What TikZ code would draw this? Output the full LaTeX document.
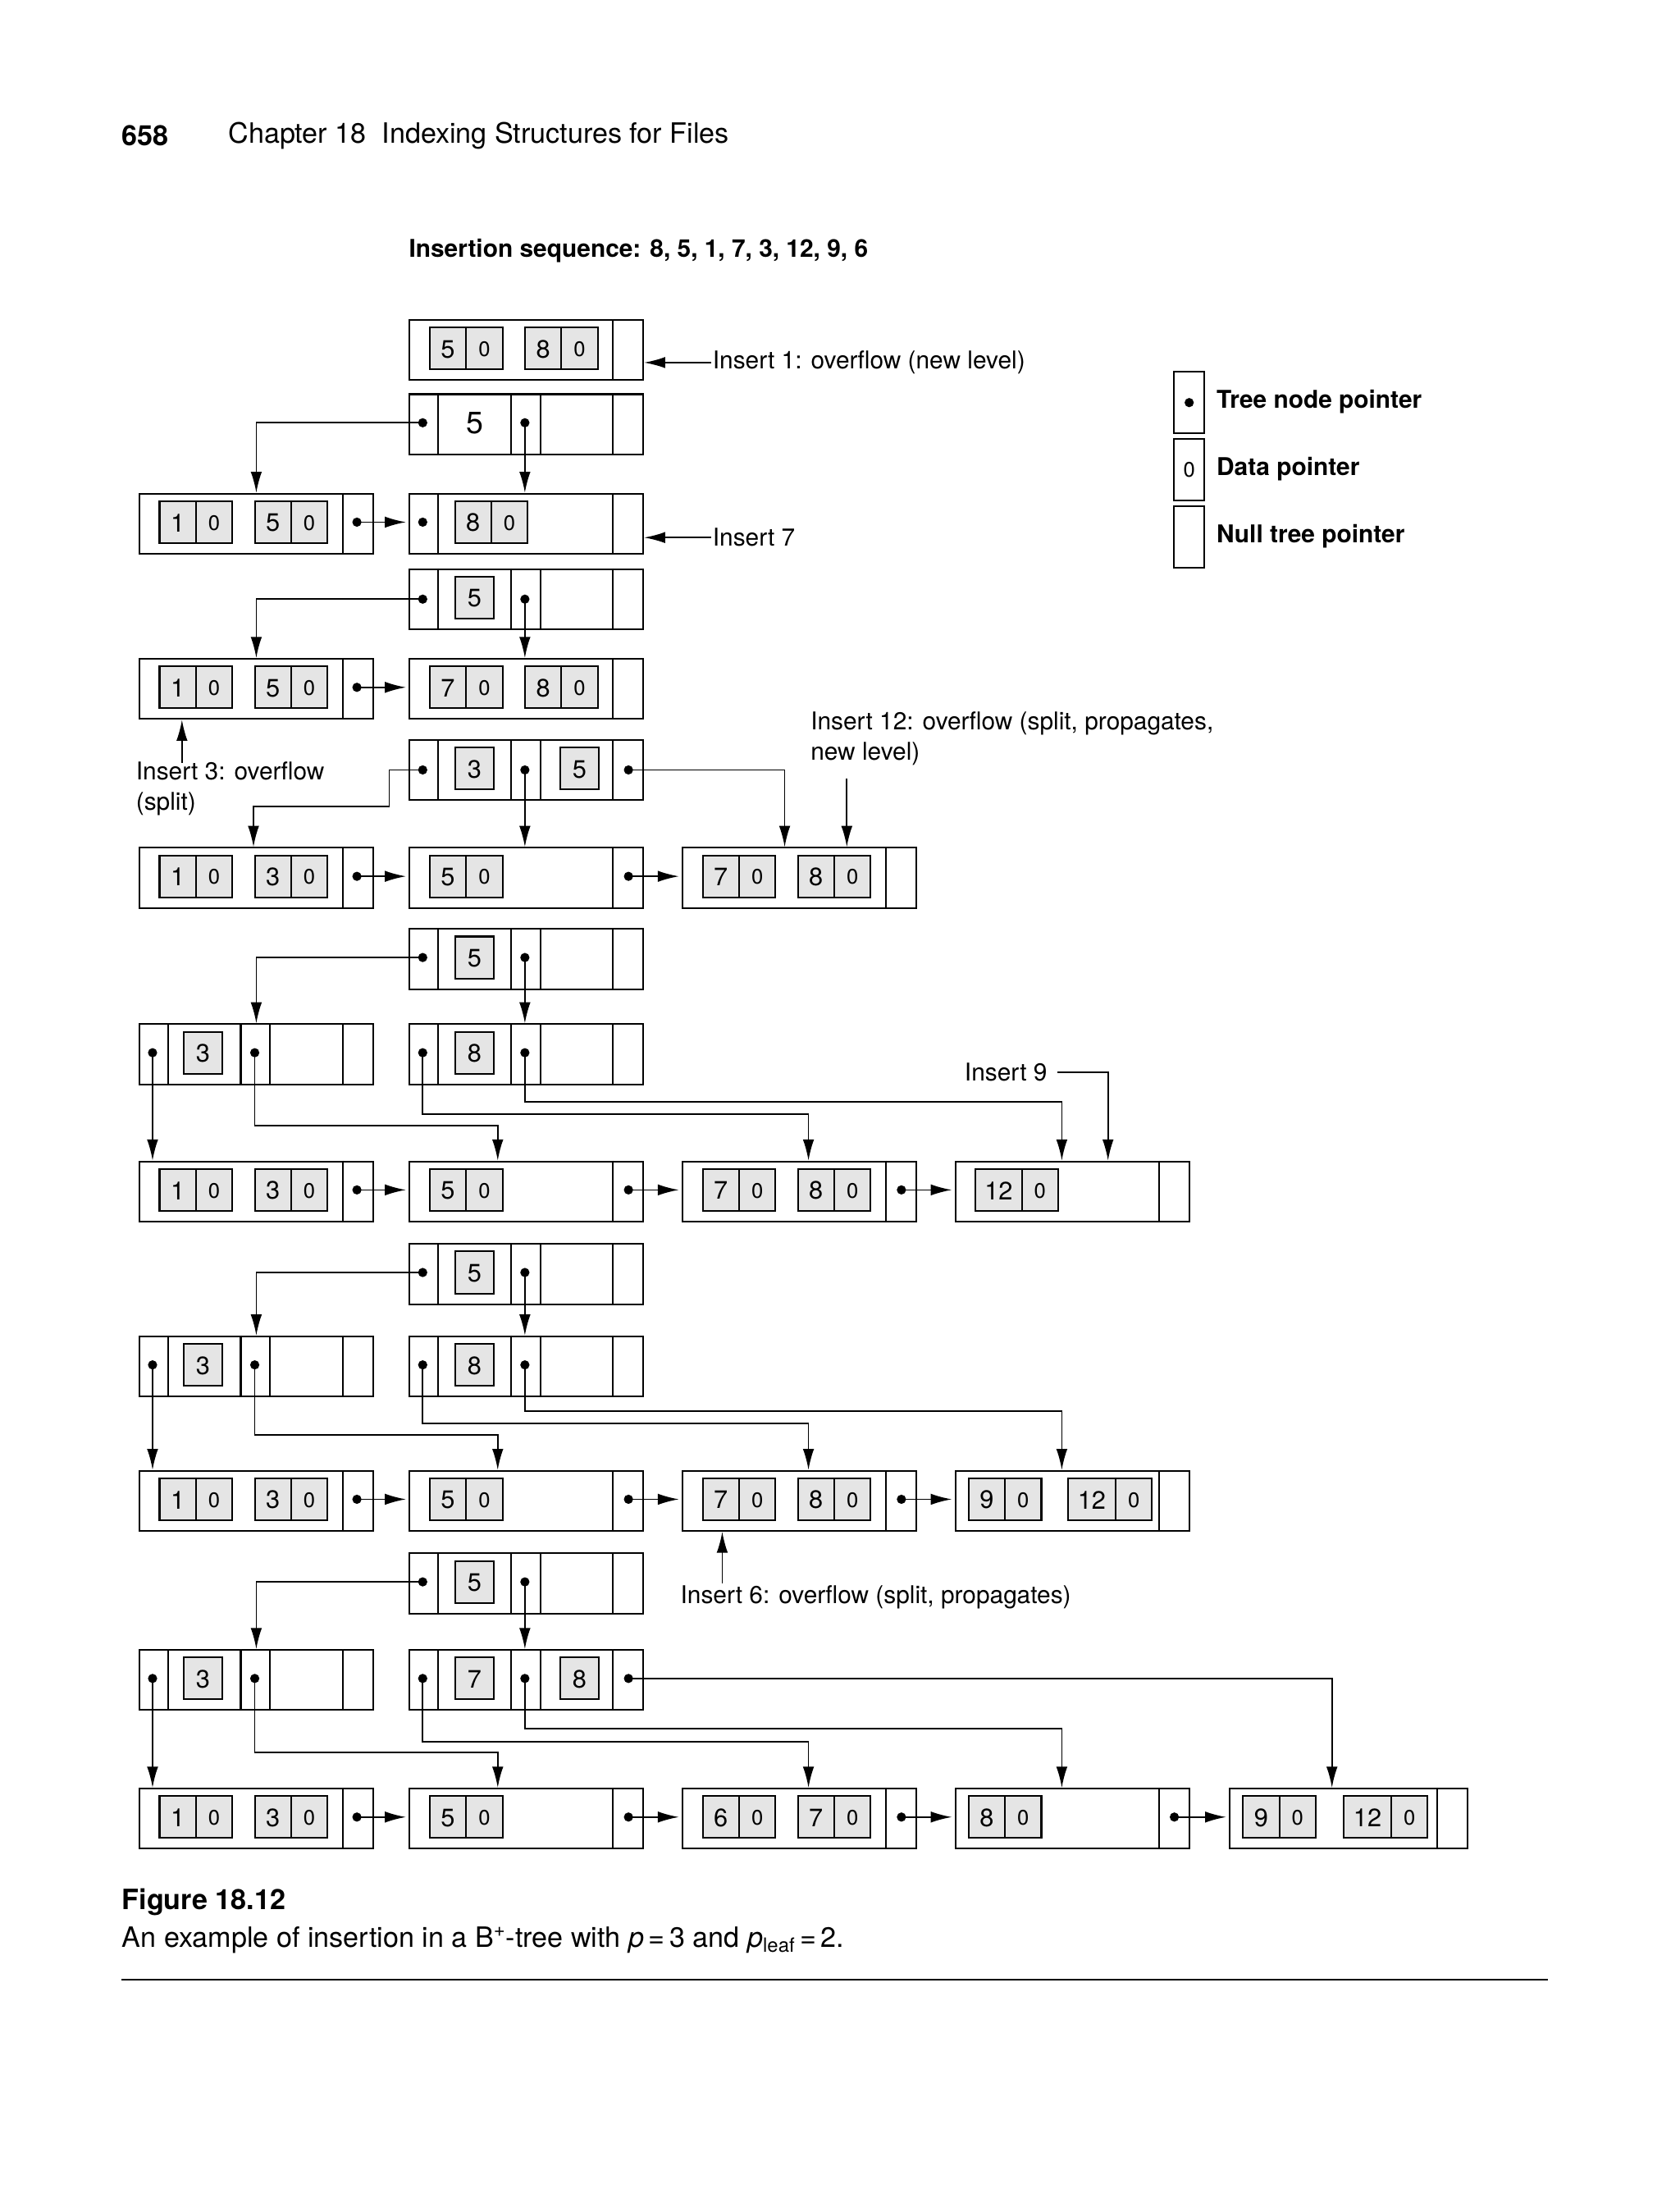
\documentclass[tikz,border=0pt]{standalone}
\usepackage{fontspec}
\setmainfont{TeX Gyre Heros}
\usetikzlibrary{arrows.meta}
\tikzset{
 x=1pt,y=-1pt,
 nd/.style={draw,line width=1.2pt,minimum width=167pt,minimum height=43pt,inner sep=0pt,anchor=north west},
 ln/.style={line width=1.2pt},
 kb/.style={draw,line width=1.2pt,fill=black!10},
 ar/.style={line width=1pt,-{Latex[length=15pt,width=8pt]}},
 dig/.style={font=\fontsize{18}{20}\selectfont,inner sep=0pt},
 zero/.style={font=\fontsize{15}{17}\selectfont,inner sep=0pt},
 lab/.style={font=\fontsize{17.5}{22}\selectfont,inner sep=1pt,align=left},
 blab/.style={font=\bfseries\fontsize{17.5}{22}\selectfont,inner sep=1pt},
}
\newcommand\Nd[3]{\node[nd] (#1) at (#2,#3) {};
 \draw[ln] ([xshift=146pt]#1.north west)--([xshift=146pt]#1.south west);}
\newcommand\In[3]{\Nd{#1}{#2}{#3}
 \draw[ln] ([xshift=21pt]#1.north west)--([xshift=21pt]#1.south west);
 \draw[ln] ([xshift=73pt]#1.north west)--([xshift=73pt]#1.south west);
 \draw[ln] ([xshift=94pt]#1.north west)--([xshift=94pt]#1.south west);}
\newcommand\KP[4]{\draw[kb] (#1,#2+6) rectangle ++(#4,30);
 \draw[kb] (#1+#4,#2+6) rectangle ++(26,30);
 \node[dig] at (#1+#4/2,#2+21.5) {#3};
 \node[zero] at (#1+#4+13,#2+21.5) {0};}
\newcommand\KB[3]{\draw[kb] (#1,#2+6) rectangle ++(28,30);
 \node[dig] at (#1+14,#2+21.5) {#3};}
\newcommand\Dt[3]{\coordinate (#1) at (#2,#3); \fill (#1) circle (3.3pt);}
\begin{document}
\begin{tikzpicture}
\useasboundingbox (0,0) rectangle (1200,1573);
% header
\node[font=\bfseries\fontsize{20}{24}\selectfont,anchor=west,inner sep=0] (pg) at (87,97) {658};
\node[font=\fontsize{20}{24}\selectfont,anchor=west,inner sep=0] (ch) at (163,97) {Chapter 18\ \ Indexing Structures for Files};
\node[blab,anchor=west] (seq) at (291,179) {Insertion sequence: 8, 5, 1, 7, 3, 12, 9, 6};
% legend
\node[nd,minimum width=22pt,minimum height=44pt] (lg1) at (838,265) {};
\fill (lg1.center) circle (3.3pt);
\node[blab,anchor=west] (lt1) at (868,287) {Tree node pointer};
\node[nd,minimum width=22pt,minimum height=44pt] (lg2) at (838,313) {};
\node[zero] at (lg2.center) {0};
\node[blab,anchor=west] (lt2) at (868,335) {Data pointer};
\node[nd,minimum width=22pt,minimum height=44pt] (lg3) at (838,361) {};
\node[blab,anchor=west] (lt3) at (868,383) {Null tree pointer};

% R1
\Nd{n1}{292}{228} \KP{307}{228}{5}{26} \KP{375}{228}{8}{26}
\node[lab,anchor=west] (t1) at (508,259) {Insert 1: overflow (new level)};
\draw[ar] (t1.west) -- (t1.west -| n1.east);
% R2
\In{n2}{292}{281} \node[font=\fontsize{22}{24}\selectfont,inner sep=0] at (339,302) {5};
\Dt{n2a}{302}{302} \Dt{n2b}{375}{302}
% R3
\Nd{n3}{99}{352} \KP{114}{352}{1}{26} \KP{182}{352}{5}{26}
\Nd{n4}{292}{352} \draw[ln] ([xshift=21pt]n4.north west)--([xshift=21pt]n4.south west);
\KP{325}{352}{8}{26} \fill (302,373) circle (3.3pt);
\Dt{n3p}{255}{373}
\draw[ar] (n3p) -- ([xshift=-2pt]n3p -| n4.west);
\draw[ar] (n2a) -| (n3.north);
\draw[ar] (n2b) -- (n2b |- n4.north);
\node[lab,anchor=west] (t7) at (508,384) {Insert 7};
\draw[ar] (t7.west) -- (t7.west -| n4.east);
% R4
\In{n5}{292}{406} \KB{325}{406}{5}
\Dt{n5a}{302}{428} \Dt{n5b}{375}{428}
% R5
\Nd{n6}{99}{470} \KP{114}{470}{1}{26} \KP{182}{470}{5}{26}
\Nd{n7}{292}{470} \KP{307}{470}{7}{26} \KP{375}{470}{8}{26}
\Dt{n6p}{255}{491}
\draw[ar] (n6p) -- ([xshift=-2pt]n6p -| n7.west);
\draw[ar] (n5a) -| (n6.north);
\draw[ar] (n5b) -- (n5b |- n7.north);
\coordinate (i3) at (130,545);
\draw[ar] (i3) -- (i3 |- n6.south);
\node[lab,anchor=north west] (t3) at (96,543) {Insert 3: overflow\\(split)};
% R6
\In{n8}{292}{528} \KB{325}{528}{3} \KB{400}{528}{5}
\Dt{n8a}{302}{550} \Dt{n8b}{375}{550} \Dt{n8c}{449}{550}
% R7
\Nd{n9}{99}{605} \KP{114}{605}{1}{26} \KP{182}{605}{3}{26}
\Nd{n10}{292}{605} \KP{307}{605}{5}{26}
\Nd{n11}{487}{605} \KP{502}{605}{7}{26} \KP{570}{605}{8}{26}
\Dt{n9p}{255}{626} \Dt{n10p}{449}{626}
\draw[ar] (n9p) -- ([xshift=-2pt]n9p -| n10.west);
\draw[ar] (n10p) -- ([xshift=-2pt]n10p -| n11.west);
\draw[ar] (n8a) -| ++(-24,26) -| ([xshift=-2pt]n9.north);
\draw[ar] (n8b) -- (n8b |- n10.north);
\draw[ar] (n8c) -| ([xshift=-10.5pt]n11.north);
\node[lab,anchor=north west] (t12) at (578,507) {Insert 12: overflow (split, propagates,\\new level)};
\coordinate (i12) at (605,556);
\draw[ar] (i12) -- (i12 |- n11.north);
% R8
\In{n12}{292}{663} \KB{325}{663}{5}
\Dt{n12a}{302}{684} \Dt{n12b}{375}{684}
% R9
\In{n13}{99}{731} \KB{131}{731}{3}
\In{n14}{292}{731} \KB{325}{731}{8}
\Dt{n13a}{109}{752} \Dt{n13b}{182}{752} \Dt{n14a}{302}{752} \Dt{n14b}{375}{752}
\draw[ar] (n12a) -| (n13.north);
\draw[ar] (n12b) -- (n12b |- n14.north);
% R10
\Nd{n15}{99}{829} \KP{114}{829}{1}{26} \KP{182}{829}{3}{26}
\Nd{n16}{292}{829} \KP{307}{829}{5}{26}
\Nd{n17}{487}{829} \KP{502}{829}{7}{26} \KP{570}{829}{8}{26}
\Nd{n18}{682}{829} \KP{697}{829}{12}{33}
\Dt{n15p}{255}{850} \Dt{n16p}{449}{850} \Dt{n17p}{644}{850}
\draw[ar] (n15p) -- ([xshift=-2pt]n15p -| n16.west);
\draw[ar] (n16p) -- ([xshift=-2pt]n16p -| n17.west);
\draw[ar] (n17p) -- ([xshift=-2pt]n17p -| n18.west);
\draw[ar] (n13a) -- (n13a |- n15.north);
\draw[ar] (n13b) -- ++(0,52) -| ([xshift=-20.5pt]n16.north);
\draw[ar] (n14a) -- ++(0,44) -| ([xshift=6.5pt]n17.north);
\draw[ar] (n14b) -- ++(0,35) -| ([xshift=-7.5pt]n18.north);
\node[lab,anchor=west] (t9) at (688,766) {Insert 9};
\draw[ar] ([xshift=6pt]t9.east) -| ([xshift=25.5pt]n18.north);
% R11
\In{n19}{292}{888} \KB{325}{888}{5}
\Dt{n19a}{302}{909} \Dt{n19b}{375}{909}
% R12
\In{n20}{99}{954} \KB{131}{954}{3}
\In{n21}{292}{954} \KB{325}{954}{8}
\Dt{n20a}{109}{975} \Dt{n20b}{182}{975} \Dt{n21a}{302}{975} \Dt{n21b}{375}{975}
\draw[ar] (n19a) -| (n20.north);
\draw[ar] (n19b) -- (n19b |- n21.north);
% R13
\Nd{n22}{99}{1050} \KP{114}{1050}{1}{26} \KP{182}{1050}{3}{26}
\Nd{n23}{292}{1050} \KP{307}{1050}{5}{26}
\Nd{n24}{487}{1050} \KP{502}{1050}{7}{26} \KP{570}{1050}{8}{26}
\Nd{n25}{682}{1050} \KP{692}{1050}{9}{26} \KP{763}{1050}{12}{34}
\Dt{n22p}{255}{1071} \Dt{n23p}{449}{1071} \Dt{n24p}{644}{1071}
\draw[ar] (n22p) -- ([xshift=-2pt]n22p -| n23.west);
\draw[ar] (n23p) -- ([xshift=-2pt]n23p -| n24.west);
\draw[ar] (n24p) -- ([xshift=-2pt]n24p -| n25.west);
\draw[ar] (n20a) -- (n20a |- n22.north);
\draw[ar] (n20b) -- ++(0,50) -| ([xshift=-20.5pt]n23.north);
\draw[ar] (n21a) -- ++(0,42) -| ([xshift=6.5pt]n24.north);
\draw[ar] (n21b) -- ++(0,33) -| ([xshift=-7.5pt]n25.north);
\coordinate (i6) at (516,1131);
\draw[ar] (i6) -- (i6 |- n24.south);
\node[lab,anchor=west] (t6) at (485,1141) {Insert 6: overflow (split, propagates)};
% R14
\In{n26}{292}{1109} \KB{325}{1109}{5}
\Dt{n26a}{302}{1130} \Dt{n26b}{375}{1130}
% R15
\In{n27}{99}{1178} \KB{131}{1178}{3}
\In{n28}{292}{1178} \KB{325}{1178}{7} \KB{400}{1178}{8}
\Dt{n27a}{109}{1199} \Dt{n27b}{182}{1199} \Dt{n28a}{302}{1199} \Dt{n28b}{375}{1199} \Dt{n28c}{449}{1199}
\draw[ar] (n26a) -| (n27.north);
\draw[ar] (n26b) -- (n26b |- n28.north);
% R16
\Nd{n29}{99}{1277} \KP{114}{1277}{1}{26} \KP{182}{1277}{3}{26}
\Nd{n30}{292}{1277} \KP{307}{1277}{5}{26}
\Nd{n31}{487}{1277} \KP{502}{1277}{6}{26} \KP{570}{1277}{7}{26}
\Nd{n32}{682}{1277} \KP{692}{1277}{8}{26}
\node[nd,minimum width=170pt] (n33) at (878,1277) {};
\draw[ln] ([xshift=149pt]n33.north west)--([xshift=149pt]n33.south west);
\KP{888}{1277}{9}{26} \KP{960}{1277}{12}{34}
\Dt{n29p}{255}{1298} \Dt{n30p}{449}{1298} \Dt{n31p}{644}{1298} \Dt{n32p}{839}{1298}
\draw[ar] (n29p) -- ([xshift=-2pt]n29p -| n30.west);
\draw[ar] (n30p) -- ([xshift=-2pt]n30p -| n31.west);
\draw[ar] (n31p) -- ([xshift=-2pt]n31p -| n32.west);
\draw[ar] (n32p) -- ([xshift=-2pt]n32p -| n33.west);
\draw[ar] (n27a) -- (n27a |- n29.north);
\draw[ar] (n27b) -- ++(0,53) -| ([xshift=-20.5pt]n30.north);
\draw[ar] (n28a) -- ++(0,45) -| ([xshift=6.5pt]n31.north);
\draw[ar] (n28b) -- ++(0,36) -| ([xshift=-7.5pt]n32.north);
\draw[ar] (n28c) -| ([xshift=-12pt]n33.north);
% caption
\node[font=\bfseries\fontsize{20}{24}\selectfont,anchor=west,inner sep=0] (fig) at (87,1359) {Figure 18.12};
\node[font=\fontsize{20}{24}\selectfont,anchor=west,inner sep=0] (cap) at (87,1386) {An example of insertion in a B\textsuperscript{+}-tree with \textit{p}\,=\,3 and \textit{p}\textsubscript{leaf}\,=\,2.};
\coordinate (rl) at (87,1414); \coordinate (rr) at (1106,1414);
\draw[line width=1.2pt] (rl) -- (rr);
\end{tikzpicture}
\end{document}
